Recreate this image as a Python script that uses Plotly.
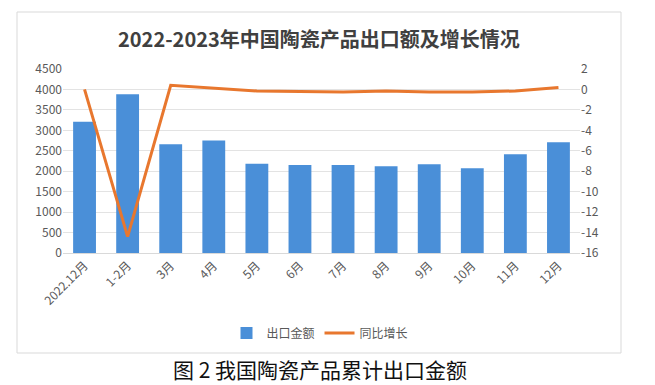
import plotly.graph_objects as go

categories = ["2022.12月", "1-2月", "3月", "4月", "5月", "6月", "7月", "8月", "9月", "10月", "11月", "12月"]
export_values = [3210, 3880, 2660, 2750, 2185, 2150, 2150, 2120, 2170, 2075, 2415, 2710]
growth_values = [0.0, -14.4, 0.4, 0.15, -0.15, -0.2, -0.25, -0.15, -0.25, -0.25, -0.15, 0.2]
left_ticks = list(range(0, 5000, 500))
right_ticks = list(range(-16, 4, 2))

FONT = "Noto Sans CJK SC, sans-serif"
W, H = 655, 385
L, R, T, B = 63, 580, 69, 253  # plot area in pixels


def px_x(x):
    return (x - L) / (R - L)


def px_y(y):
    return (B - y) / (B - T)


fig = go.Figure()
fig.add_trace(go.Bar(
    x=categories, y=export_values, name="出口金额",
    marker=dict(color="#4A8FD8", line=dict(width=0)),
    yaxis="y",
))
fig.add_trace(go.Scatter(
    x=categories, y=growth_values, name="同比增长", mode="lines",
    line=dict(color="#E8772E", width=3),
    yaxis="y2",
))

fig.update_layout(
    width=W, height=H,
    margin=dict(l=L, r=W - R, t=T, b=H - B),
    paper_bgcolor="white", plot_bgcolor="white",
    font=dict(family=FONT, size=12, color="#595959"),
    bargap=0.47,
    showlegend=True,
    legend=dict(
        orientation="h", x=px_x(320), xanchor="center",
        y=px_y(333), yanchor="middle",
        font=dict(size=12, color="#595959"),
        itemwidth=30, traceorder="normal",
    ),
    xaxis=dict(
        tickangle=-45, showgrid=False, showline=True, linecolor="#d9d9d9",
        ticks="", tickfont=dict(size=12, color="#595959"),
    ),
    yaxis=dict(
        range=[0, 4500], tickvals=left_ticks, ticktext=[str(v) for v in left_ticks],
        showgrid=True, gridcolor="#e3e3e3", gridwidth=1, zeroline=False,
        showline=False, ticks="", tickfont=dict(size=12, color="#595959"),
    ),
    yaxis2=dict(
        range=[-16, 2], tickvals=right_ticks, ticktext=[str(v) for v in right_ticks],
        overlaying="y", side="right", showgrid=False, zeroline=False,
        showline=False, ticks="", tickfont=dict(size=12, color="#595959"),
    ),
    shapes=[dict(
        type="rect", xref="paper", yref="paper",
        x0=px_x(17), x1=px_x(621), y0=px_y(353), y1=px_y(12),
        line=dict(color="#d9d9d9", width=1), fillcolor="rgba(0,0,0,0)", layer="below",
    )],
    annotations=[
        dict(text="<b>2022-2023年中国陶瓷产品出口额及增长情况</b>", xref="paper", yref="paper",
             x=px_x(319), y=px_y(38), xanchor="center", yanchor="middle", showarrow=False,
             font=dict(family=FONT, size=20, color="#404040")),
        dict(text="图 2 我国陶瓷产品累计出口金额", xref="paper", yref="paper",
             x=px_x(320), y=px_y(369), xanchor="center", yanchor="middle", showarrow=False,
             font=dict(family=FONT, size=21, color="#111111")),
    ],
)

fig.write_html(
    "out.html",
    config={"displayModeBar": False},
    post_script="document.body.style.margin='0px';document.body.style.overflow='hidden';",
)
